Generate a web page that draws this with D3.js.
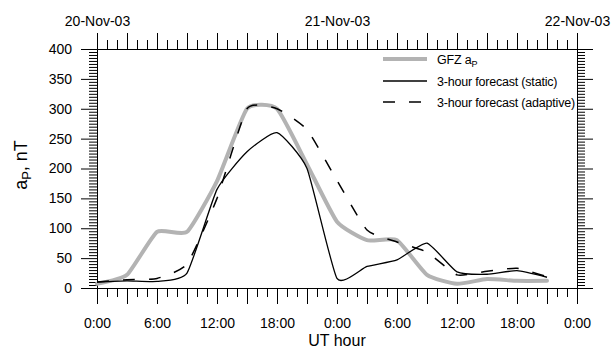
<!DOCTYPE html>
<html>
<head>
<meta charset="utf-8">
<script src="https://cdn.jsdelivr.net/npm/d3@7"></script>
<style>
  html, body { margin: 0; padding: 0; background: #fff; }
  svg { display: block; font-family: "Liberation Sans", Arial, sans-serif; }
</style>
</head>
<body>
<svg id="chart" width="611" height="350"></svg>
<script>
// ---- data (UT hours from 00:00 20-Nov-03) ----
const hours       = [0, 3, 6, 9, 12, 15, 18, 21, 24, 27, 30, 33, 36, 39, 42, 45];
const gfzAp       = [7, 22, 94, 94, 179, 300, 300, 207, 111, 80, 80, 22, 7, 15, 12, 12];
const staticFc    = [10, 12, 11, 25, 165, 228, 260, 200, 16, 36, 47, 75, 27, 23, 29, 18];
const adaptiveFc  = [10, 14, 16, 40, 150, 300, 300, 265, 180, 97, 77, 60, 22, 28, 33, 19];
const hourLabels  = ["0:00", "6:00", "12:00", "18:00", "0:00", "6:00", "12:00", "18:00", "0:00"];
const dateLabels  = ["20-Nov-03", "21-Nov-03", "22-Nov-03"];
const yTicks      = [0, 50, 100, 150, 200, 250, 300, 350, 400];
const legendNames = ["GFZ a", "3-hour forecast (static)", "3-hour forecast (adaptive)"];

(function () {
const svg = d3.select("#chart");
const m = {left: 97, right: 577, top: 49, bottom: 288};
const x = d3.scaleLinear().domain([0, 48]).range([m.left, m.right]);
const y = d3.scaleLinear().domain([0, 400]).range([m.bottom, m.top]);

const hourTicks = d3.range(0, 49, 1);
const minorY = d3.range(0, 401, 5);

function styleAxis(g) {
  g.selectAll("path.domain").attr("stroke", "#000").attr("stroke-width", 1);
  g.selectAll(".tick line").attr("stroke", "#000").attr("stroke-width", 1);
  g.selectAll("text").attr("font-size", 14).attr("fill", "#000")
    .attr("font-family", "'Liberation Sans', Arial, sans-serif");
}

// bottom axis: ticks every hour, longer every 3 h, labels every 6 h
const gBottom = svg.append("g").attr("transform", `translate(0,${m.bottom})`)
  .call(d3.axisBottom(x).tickValues(hourTicks).tickSizeOuter(0).tickSize(16).tickPadding(14)
    .tickFormat(d => d % 6 === 0 ? hourLabels[d / 6] : ""));
gBottom.selectAll(".tick line").attr("y2", d => d % 3 === 0 ? 16 : 9);
styleAxis(gBottom);

// top axis: same ticks, date labels every 24 h
const gTop = svg.append("g").attr("transform", `translate(0,${m.top})`)
  .call(d3.axisTop(x).tickValues(hourTicks).tickSizeOuter(0).tickSize(16).tickPadding(7)
    .tickFormat(d => d % 24 === 0 ? dateLabels[d / 24] : ""));
gTop.selectAll(".tick line").attr("y2", d => d % 3 === 0 ? -16 : -9);
styleAxis(gTop);

// left axis: majors every 50 with labels, minors every 5
const gLeft = svg.append("g").attr("transform", `translate(${m.left},0)`)
  .call(d3.axisLeft(y).tickValues(minorY).tickSizeOuter(0).tickSize(16).tickPadding(9)
    .tickFormat(d => yTicks.includes(d) ? d : ""));
gLeft.selectAll(".tick line").attr("x2", d => d % 50 === 0 ? -16 : -8);
styleAxis(gLeft);

// right axis
const gRight = svg.append("g").attr("transform", `translate(${m.right},0)`)
  .call(d3.axisRight(y).tickValues(minorY).tickSizeOuter(0).tickSize(16).tickFormat(""));
gRight.selectAll(".tick line").attr("x2", d => d % 50 === 0 ? 16 : 8);
styleAxis(gRight);

// lines
const curve = d3.curveCardinal.tension(0.5);
const line = d3.line().x(d => x(d[0])).y(d => y(d[1])).curve(curve);
const zip = vals => hours.map((h, i) => [h, vals[i]]);

svg.append("path").datum(zip(gfzAp)).attr("d", line)
  .attr("fill", "none").attr("stroke", "#b3b3b3").attr("stroke-width", 4)
  .attr("stroke-linejoin", "round").attr("stroke-linecap", "round");
svg.append("path").datum(zip(staticFc)).attr("d", line)
  .attr("fill", "none").attr("stroke", "#000").attr("stroke-width", 1.3);
svg.append("path").datum(zip(adaptiveFc)).attr("d", line)
  .attr("fill", "none").attr("stroke", "#000").attr("stroke-width", 1.5)
  .attr("stroke-dasharray", "12,14");

// legend
const lg = svg.append("g");
const legendY = [59, 81, 102];
const styles = [
  {stroke: "#b3b3b3", w: 4, dash: null},
  {stroke: "#000", w: 1.3, dash: null},
  {stroke: "#000", w: 1.5, dash: "12,14"}
];
legendNames.forEach((name, i) => {
  lg.append("line").attr("x1", 383).attr("x2", 427).attr("y1", legendY[i]).attr("y2", legendY[i])
    .attr("stroke", styles[i].stroke).attr("stroke-width", styles[i].w)
    .attr("stroke-dasharray", styles[i].dash);
  const t = lg.append("text").attr("x", 437).attr("y", legendY[i] + 4.5)
    .attr("font-size", 12.5).attr("fill", "#000").attr("letter-spacing", -0.2).text(name);
  if (i === 0) t.append("tspan").attr("font-size", 9).attr("dy", 3).text("P");
});

// axis titles
svg.append("text").attr("x", 337).attr("y", 346).attr("text-anchor", "middle")
  .attr("font-size", 16).attr("fill", "#000").text("UT hour");
const yt = svg.append("text").attr("transform", "translate(27,165) rotate(-90)")
  .attr("text-anchor", "middle").attr("font-size", 18).attr("fill", "#000");
yt.append("tspan").text("a");
yt.append("tspan").attr("font-size", 13).attr("dy", 4).text("P");
yt.append("tspan").attr("dy", -4).text(", nT");
})();
</script>
</body>
</html>
